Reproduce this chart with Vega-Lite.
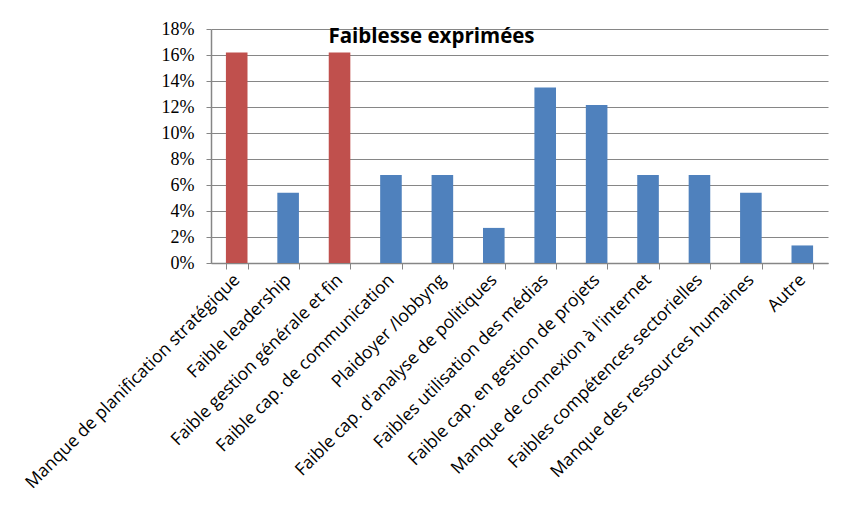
{
  "$schema": "https://vega.github.io/schema/vega-lite/v6.json",
  "autosize": {"type": "none"},
  "width": 617,
  "height": 234,
  "padding": {"left": 211, "top": 29, "right": 15, "bottom": 257},
  "background": "white",
  "title": {
    "text": "Faiblesse exprimées",
    "anchor": "middle",
    "frame": "group",
    "dx": -88,
    "dy": 27,
    "offset": -16,
    "baseline": "alphabetic",
    "font": "Open Sans",
    "fontSize": 20.5,
    "fontWeight": "bold",
    "color": "black"
  },
  "data": {
    "values": [
      {"categorie": "Manque de planification stratégique", "valeur": 0.162, "groupe": "max"},
      {"categorie": "Faible leadership", "valeur": 0.054, "groupe": "autre"},
      {"categorie": "Faible gestion générale et fin", "valeur": 0.162, "groupe": "max"},
      {"categorie": "Faible cap. de communication", "valeur": 0.0676, "groupe": "autre"},
      {"categorie": "Plaidoyer /lobbyng", "valeur": 0.0676, "groupe": "autre"},
      {"categorie": "Faible cap. d'analyse de politiques", "valeur": 0.027, "groupe": "autre"},
      {"categorie": "Faibles utilisation des médias", "valeur": 0.135, "groupe": "autre"},
      {"categorie": "Faible cap. en gestion de projets", "valeur": 0.1216, "groupe": "autre"},
      {"categorie": "Manque de connexion à l'internet", "valeur": 0.0676, "groupe": "autre"},
      {"categorie": "Faibles compétences sectorielles", "valeur": 0.0676, "groupe": "autre"},
      {"categorie": "Manque des ressources humaines", "valeur": 0.054, "groupe": "autre"},
      {"categorie": "Autre", "valeur": 0.0135, "groupe": "autre"}
    ]
  },
  "mark": {"type": "bar"},
  "encoding": {
    "x": {
      "field": "categorie",
      "type": "nominal",
      "sort": null,
      "scale": {"paddingInner": 0.58, "paddingOuter": 0.29},
      "axis": {
        "title": null,
        "labelAngle": -45,
        "labelAlign": "right",
        "labelBaseline": "middle",
        "labelFont": "Open Sans",
        "labelFontSize": 17.5,
        "labelColor": "black",
        "labelPadding": 8,
        "labelLimit": 400,
        "tickBand": "extent",
        "tickSize": 6,
        "tickColor": "#868686",
        "domainColor": "#868686",
        "domainWidth": 1.5,
        "grid": false
      }
    },
    "y": {
      "field": "valeur",
      "type": "quantitative",
      "scale": {"domain": [0, 0.18], "nice": false},
      "axis": {
        "title": null,
        "values": [0, 0.02, 0.04, 0.06, 0.08, 0.1, 0.12, 0.14, 0.16, 0.18],
        "format": ".0%",
        "labelFont": "Liberation Serif",
        "labelFontSize": 18,
        "labelColor": "black",
        "labelPadding": 12,
        "tickSize": 5,
        "tickColor": "#868686",
        "domainColor": "#868686",
        "domainWidth": 1.5,
        "grid": true,
        "gridColor": "#868686",
        "gridWidth": 1.2
      }
    },
    "color": {
      "field": "groupe",
      "type": "nominal",
      "scale": {"domain": ["max", "autre"], "range": ["#C0504D", "#4F81BD"]},
      "legend": null
    }
  },
  "config": {
    "view": {"stroke": null}
  }
}
